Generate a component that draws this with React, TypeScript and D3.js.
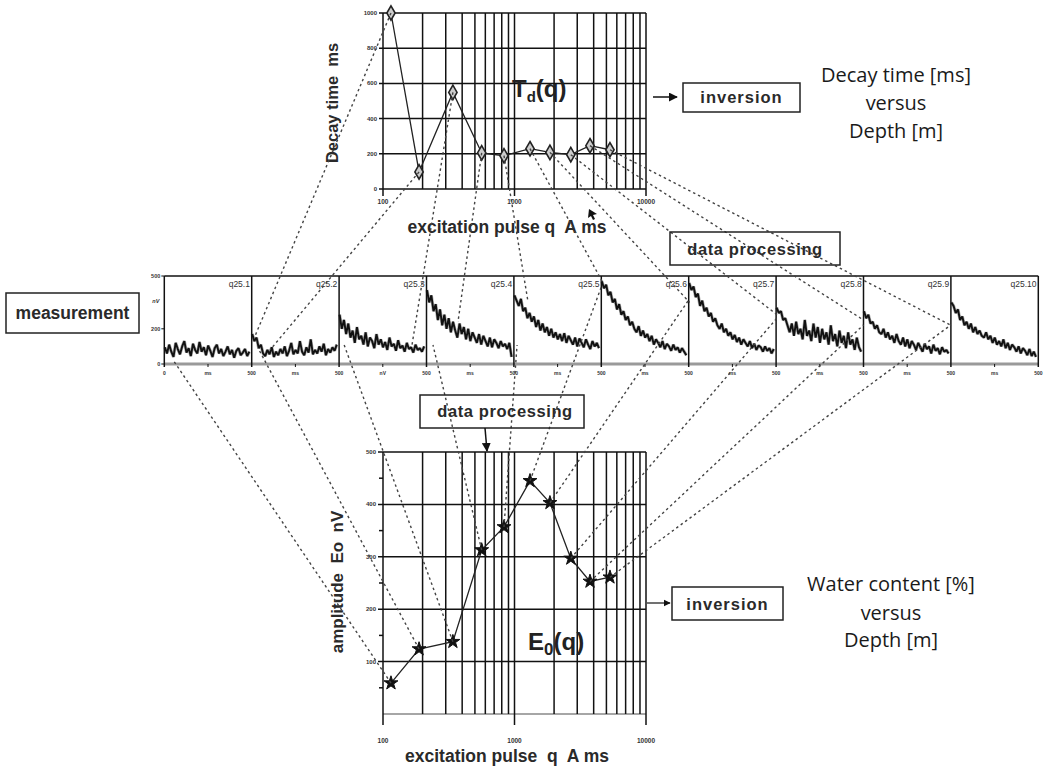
import React from 'react';
import * as d3 from 'd3';

// ---------- data ----------
const qValues = [115, 188, 340, 563, 832, 1312, 1860, 2680, 3750, 5320];
const decayTimes = [1000, 97, 549, 205, 189, 229, 208, 195, 246, 223];
const amplitudes = [59, 124, 138, 313, 357, 445, 403, 297, 253, 261];

const tdYTicks = [0, 200, 400, 600, 800, 1000];
const e0YTicks = [100, 200, 300, 400, 500];
const e0MinorTicks = [50, 150, 250, 350, 450];
const xMajorTicks = [100, 1000, 10000];
const logGrid = [100, 200, 300, 400, 500, 600, 700, 800, 900, 1000, 2000, 3000, 4000, 5000, 6000, 7000, 8000, 9000, 10000];

const panelLabels = ['q25.1', 'q25.2', 'q25.3', 'q25.4', 'q25.5', 'q25.6', 'q25.7', 'q25.8', 'q25.9', 'q25.10'];
const panelUnits = ['ms', 'ms', 'nV', 'ms', 'ms', 'ms', 'ms', 'ms', 'ms', 'ms'];
const stripYTicks = [0, 200, 500];

const trace1 = [95, 60, 110, 70, 40, 120, 85, 55, 100, 130, 65, 90, 45, 115, 80, 60, 125, 70, 95, 50, 105, 75, 40, 90, 110, 60, 85, 45, 70, 100, 55, 80, 35, 75, 90, 50, 65, 85, 45, 70];
const trace2 = [170, 130, 150, 90, 110, 60, 45, 80, 55, 95, 40, 70, 50, 85, 60, 100, 45, 75, 120, 55, 80, 60, 130, 70, 50, 95, 65, 140, 55, 80, 60, 100, 70, 115, 50, 85, 65, 95, 75, 110];
const trace3 = [280, 200, 250, 170, 230, 150, 190, 120, 210, 140, 160, 110, 180, 100, 150, 130, 90, 170, 110, 140, 95, 125, 80, 150, 100, 115, 75, 135, 90, 105, 70, 120, 85, 95, 65, 110, 80, 90, 70, 100];
const trace4 = [420, 350, 390, 300, 340, 250, 310, 220, 280, 200, 260, 180, 240, 190, 150, 230, 170, 210, 140, 200, 130, 180, 150, 120, 170, 110, 160, 130, 100, 150, 95, 140, 120, 90, 130, 100, 115, 85, 120, 40];
const trace5 = [390, 360, 330, 370, 300, 320, 260, 290, 240, 270, 210, 250, 190, 230, 180, 210, 160, 200, 150, 180, 140, 170, 130, 175, 120, 160, 135, 110, 150, 100, 145, 120, 95, 140, 110, 85, 130, 100, 120, 90];
const trace6 = [470, 430, 450, 390, 410, 350, 370, 310, 340, 280, 300, 250, 270, 220, 240, 200, 180, 215, 160, 190, 150, 170, 130, 160, 110, 140, 120, 95, 130, 85, 115, 100, 75, 110, 80, 95, 65, 90, 70, 50];
const trace7 = [460, 420, 440, 380, 400, 330, 360, 300, 320, 270, 290, 240, 260, 220, 200, 230, 180, 200, 160, 180, 140, 165, 125, 150, 110, 140, 120, 100, 130, 90, 115, 80, 105, 95, 70, 100, 75, 90, 60, 85];
const trace8 = [320, 290, 300, 250, 260, 220, 180, 230, 160, 240, 170, 200, 140, 250, 160, 190, 130, 230, 150, 210, 120, 200, 140, 180, 110, 220, 130, 170, 100, 190, 120, 160, 90, 180, 110, 140, 80, 150, 95, 70];
const trace9 = [300, 260, 280, 230, 240, 200, 220, 180, 170, 200, 150, 180, 140, 160, 120, 170, 130, 110, 150, 100, 140, 90, 130, 110, 80, 120, 95, 70, 115, 85, 100, 60, 110, 75, 90, 55, 95, 70, 80, 60];
const trace10 = [350, 330, 290, 310, 250, 270, 220, 240, 200, 230, 180, 210, 170, 190, 160, 150, 180, 140, 160, 120, 150, 110, 130, 100, 140, 90, 120, 80, 110, 95, 70, 100, 60, 90, 75, 50, 85, 45, 70, 40];
const traces = [trace1, trace2, trace3, trace4, trace5, trace6, trace7, trace8, trace9, trace10];

// where each dotted link meets the strip: [panel index, time ms, nV]
const topLinkPanel = [1, 1, 2, 3, 4, 5, 6, 7, 8, 9];
const topLinkTime = [19, 105, 417, 180, 81, 10, 5, 5, 0, 0];
const topLinkValue = [159, 80, 108, 239, 352, 460, 350, 280, 250, 220];
const bottomLinkPanel = [0, 1, 2, 3, 4, 5, 6, 7, 8, 9];
const bottomLinkTime = [50, 36, 29, 37, 18, 4, 0, 5, 0, 0];
const bottomLinkValue = [23, 91, 108, 108, 108, 449, 364, 261, 222, 222];

// ---------- layout ----------
const W = 1052, H = 767;
const PLOT_L = 383, PLOT_R = 646;
const TOP_T = 13, TOP_B = 189;
const BOT_T = 452, BOT_B = 714;
const STRIP_L = 164.3, PANEL_W = 87.4, STRIP_T = 276, STRIP_B = 364;

const xTop = d3.scaleLog().domain([100, 10000]).range([PLOT_L, PLOT_R]);
const yTop = d3.scaleLinear().domain([0, 1000]).range([TOP_B, TOP_T]);
const xBot = d3.scaleLog().domain([100, 10000]).range([PLOT_L, PLOT_R]);
const yBot = d3.scaleLinear().domain([0, 500]).range([BOT_B, BOT_T]);
const yStrip = d3.scaleLinear().domain([0, 500]).range([STRIP_B, STRIP_T]);
const panelX = (i: number) => d3.scaleLinear().domain([0, 500]).range([STRIP_L + i * PANEL_W, STRIP_L + (i + 1) * PANEL_W]);
const traceTimes = d3.range(3, 500, 12.4);

const SANS = '"Liberation Sans", Arial, sans-serif';
const MYRIAD = '"Open Sans", "Noto Sans", sans-serif';
const PRE = { whiteSpace: 'pre' as const };

export default function App() {
  const tdLine = d3.line<number>().x((_, i) => xTop(qValues[i])).y((d) => yTop(d));
  const e0Line = d3.line<number>().x((_, i) => xBot(qValues[i])).y((d) => yBot(d));
  const diamond = d3.symbol().type(d3.symbolDiamond).size(60)()!;
  const star = d3.symbol().type(d3.symbolStar).size(60)()!;

  const dash = { stroke: '#444', strokeWidth: 1.4, strokeDasharray: '2.5,3', fill: 'none' };
  const grid = { stroke: '#111', strokeWidth: 1.5 };
  const tiny = { fontFamily: SANS, fontSize: 6, fill: '#333', fontWeight: 'bold' as const };

  return (
    <svg width={W} height={H} style={{ position: 'absolute', left: 0, top: 0, background: '#fff' }}>
      <defs>
        <marker id="arr" viewBox="0 0 10 10" refX="9" refY="5" markerWidth="6" markerHeight="6" orient="auto">
          <path d="M0,0 L10,5 L0,10 z" fill="#111" />
        </marker>
      </defs>

      {/* ---------- top chart: decay time ---------- */}
      <g>
        {tdYTicks.map((v) => (
          <g key={'tdy' + v}>
            <line x1={PLOT_L - 4} x2={PLOT_R} y1={yTop(v)} y2={yTop(v)} {...grid} />
            <text x={PLOT_L - 6} y={yTop(v) + 2} textAnchor="end" {...tiny}>{v}</text>
          </g>
        ))}
        {logGrid.map((q) => (
          <line key={'tdx' + q} x1={xTop(q)} x2={xTop(q)} y1={TOP_T} y2={xMajorTicks.includes(q) ? TOP_B + 7 : TOP_B} {...grid} />
        ))}
        {xMajorTicks.map((q) => (
          <text key={'tdl' + q} x={xTop(q)} y={TOP_B + 15} textAnchor="middle" {...tiny} fontSize={6.5}>{q}</text>
        ))}
        <path d={tdLine(decayTimes)!} fill="none" stroke="#222" strokeWidth={1.3} />
        {decayTimes.map((v, i) => (
          <path key={'tdp' + i} d={diamond} transform={`translate(${xTop(qValues[i])},${yTop(v)})`} fill="#ccc" stroke="#222" strokeWidth={1.6} />
        ))}
        <text x={512} y={97} fontFamily={SANS} fontWeight="bold" fontSize={24} fill="#222">
          T<tspan fontSize={15} dy={5}>d</tspan><tspan dy={-5}>(q)</tspan>
        </text>
        <text transform={`translate(338,${(TOP_T + TOP_B) / 2 + 2}) rotate(-90)`} textAnchor="middle" fontFamily={SANS} fontWeight="bold" fontSize={16.5} fill="#2a2a2a" style={PRE}>
          {'Decay time  ms'}
        </text>
        <text x={507} y={233} textAnchor="middle" fontFamily={SANS} fontWeight="bold" fontSize={17.5} fill="#2a2a2a" style={PRE}>
          {'excitation pulse q  A ms'}
        </text>
      </g>

      {/* ---------- bottom chart: amplitude ---------- */}
      <g>
        <line x1={PLOT_L} x2={PLOT_R} y1={BOT_B} y2={BOT_B} stroke="#888" strokeWidth={1.5} />
        {e0YTicks.map((v) => (
          <g key={'e0y' + v}>
            <line x1={PLOT_L - 5} x2={PLOT_R} y1={yBot(v)} y2={yBot(v)} {...grid} />
            <text x={PLOT_L - 7} y={yBot(v) + 2} textAnchor="end" {...tiny}>{v}</text>
          </g>
        ))}
        {e0MinorTicks.map((v) => (
          <line key={'e0m' + v} x1={PLOT_L - 4} x2={PLOT_L} y1={yBot(v)} y2={yBot(v)} {...grid} />
        ))}
        {logGrid.map((q) => (
          <line key={'e0x' + q} x1={xBot(q)} x2={xBot(q)} y1={BOT_T} y2={xMajorTicks.includes(q) ? BOT_B + 11 : BOT_B} {...grid} />
        ))}
        {xMajorTicks.map((q) => (
          <text key={'e0l' + q} x={xBot(q)} y={BOT_B + 29} textAnchor="middle" {...tiny} fontSize={6.5}>{q}</text>
        ))}
        <path d={e0Line(amplitudes)!} fill="none" stroke="#222" strokeWidth={1.3} />
        {amplitudes.map((v, i) => (
          <path key={'e0p' + i} d={star} transform={`translate(${xBot(qValues[i])},${yBot(v)})`} fill="#111" stroke="#111" strokeWidth={1} />
        ))}
        <text x={528} y={650} fontFamily={SANS} fontWeight="bold" fontSize={24} fill="#222">
          E<tspan fontSize={17} dy={5}>0</tspan><tspan dy={-5}>(q)</tspan>
        </text>
        <text transform={`translate(343,582) rotate(-90)`} textAnchor="middle" fontFamily={SANS} fontWeight="bold" fontSize={17} fill="#2a2a2a" style={PRE}>
          {'amplitude  Eo  nV'}
        </text>
        <text x={507} y={762} textAnchor="middle" fontFamily={SANS} fontWeight="bold" fontSize={17.5} fill="#2a2a2a" style={PRE}>
          {'excitation pulse  q  A ms'}
        </text>
      </g>

      {/* ---------- strip of measurements ---------- */}
      <g>
        <line x1={STRIP_L} x2={STRIP_L + 10 * PANEL_W} y1={STRIP_B} y2={STRIP_B} stroke="#9a9a9a" strokeWidth={3} />
        <line x1={STRIP_L} x2={STRIP_L + 10 * PANEL_W} y1={STRIP_T} y2={STRIP_T} stroke="#111" strokeWidth={1.5} />
        {stripYTicks.map((v) => (
          <g key={'sy' + v}>
            <line x1={STRIP_L - 3} x2={STRIP_L} y1={yStrip(v)} y2={yStrip(v)} stroke="#111" strokeWidth={1} />
            <text x={STRIP_L - 4} y={yStrip(v) + 2} textAnchor="end" {...tiny} fontSize={5.5}>{v}</text>
          </g>
        ))}
        <text x={STRIP_L - 5} y={yStrip(360) + 2} textAnchor="end" {...tiny} fontSize={5.5} fontStyle="italic">nV</text>
        {traces.map((tr, i) => {
          const xs = panelX(i);
          const line = d3.line<number>().x((_, j) => xs(traceTimes[j])).y((d) => yStrip(d));
          return (
            <g key={'panel' + i}>
              <path d={line(tr)!} fill="none" stroke="#777" strokeWidth={3.2} strokeLinejoin="bevel" opacity={0.6} />
              <path d={line(tr)!} fill="none" stroke="#111" strokeWidth={1.9} strokeLinejoin="bevel" />
              <line x1={xs(0)} x2={xs(0)} y1={STRIP_T} y2={STRIP_B + 3} stroke="#111" strokeWidth={1.5} />
              <line x1={xs(250)} x2={xs(250)} y1={STRIP_B} y2={STRIP_B + 3} stroke="#111" strokeWidth={1} />
              <text x={xs(490)} y={STRIP_T + 11} textAnchor="end" fontFamily={SANS} fontSize={8.5} fill="#333">{panelLabels[i]}</text>
              <text x={xs(0)} y={STRIP_B + 11} textAnchor="middle" {...tiny} fontSize={5}>{i === 0 ? 0 : 500}</text>
              <text x={xs(250)} y={STRIP_B + 11} textAnchor="middle" {...tiny} fontSize={5}>{panelUnits[i]}</text>
            </g>
          );
        })}
        <line x1={panelX(9)(500)} x2={panelX(9)(500)} y1={STRIP_T} y2={STRIP_B + 3} stroke="#111" strokeWidth={1.5} />
        <text x={panelX(9)(500)} y={STRIP_B + 11} textAnchor="middle" {...tiny} fontSize={5}>500</text>
      </g>

      {/* ---------- dotted links ---------- */}
      <g>
        {qValues.map((q, i) => (
          <line key={'lt' + i} x1={xTop(q)} y1={yTop(decayTimes[i])} x2={panelX(topLinkPanel[i])(topLinkTime[i])} y2={yStrip(topLinkValue[i])} style={dash} />
        ))}
        {qValues.map((q, i) => (
          <line key={'lb' + i} x1={xBot(q)} y1={yBot(amplitudes[i])} x2={panelX(bottomLinkPanel[i])(bottomLinkTime[i])} y2={yStrip(bottomLinkValue[i])} style={dash} />
        ))}
      </g>

      {/* ---------- boxes and annotations ---------- */}
      <g fontFamily={SANS} fill="#2a2a2a">
        <rect x={6} y={293} width={133} height={40} fill="none" stroke="#222" strokeWidth={1.5} />
        <text x={72.5} y={319} textAnchor="middle" fontWeight="bold" fontSize={17.5}>measurement</text>

        <rect x={420} y={395} width={164} height={33} fill="none" stroke="#222" strokeWidth={1.5} />
        <text x={505} y={417} textAnchor="middle" fontWeight="bold" fontSize={16.5} letterSpacing={0.6}>data processing</text>
        <line x1={485} y1={428} x2={487} y2={451} stroke="#111" strokeWidth={1.5} markerEnd="url(#arr)" />

        <rect x={670} y={232} width={170} height={33} fill="none" stroke="#222" strokeWidth={1.5} />
        <text x={755} y={255} textAnchor="middle" fontWeight="bold" fontSize={16.5} letterSpacing={0.6}>data processing</text>
        <path d="M589,209 L597,214 L593,215 L595,219 L593,220 L591,216 L588,218 z" fill="#111" />

        <rect x={683} y={83} width={117} height={29} fill="none" stroke="#222" strokeWidth={1.5} />
        <text x={741.5} y={103} textAnchor="middle" fontWeight="bold" fontSize={16.5} letterSpacing={1}>inversion</text>
        <line x1={653} y1={97} x2={677} y2={97} stroke="#111" strokeWidth={1.5} markerEnd="url(#arr)" />

        <rect x={672} y={587} width={111} height={33} fill="none" stroke="#222" strokeWidth={1.5} />
        <text x={727.5} y={610} textAnchor="middle" fontWeight="bold" fontSize={16.5} letterSpacing={1}>inversion</text>
        <line x1={647} y1={603} x2={670} y2={603} stroke="#111" strokeWidth={1.2} markerEnd="url(#arr)" />

        <g fontFamily={MYRIAD} fontSize={20} fill="#1a1a1a" textAnchor="middle">
          <text x={896} y={82}>Decay time [ms]</text>
          <text x={896} y={110}>versus</text>
          <text x={896} y={138}>Depth [m]</text>
          <text x={891} y={591}>Water content [%]</text>
          <text x={891} y={620}>versus</text>
          <text x={891} y={647}>Depth [m]</text>
        </g>
      </g>
    </svg>
  );
}
